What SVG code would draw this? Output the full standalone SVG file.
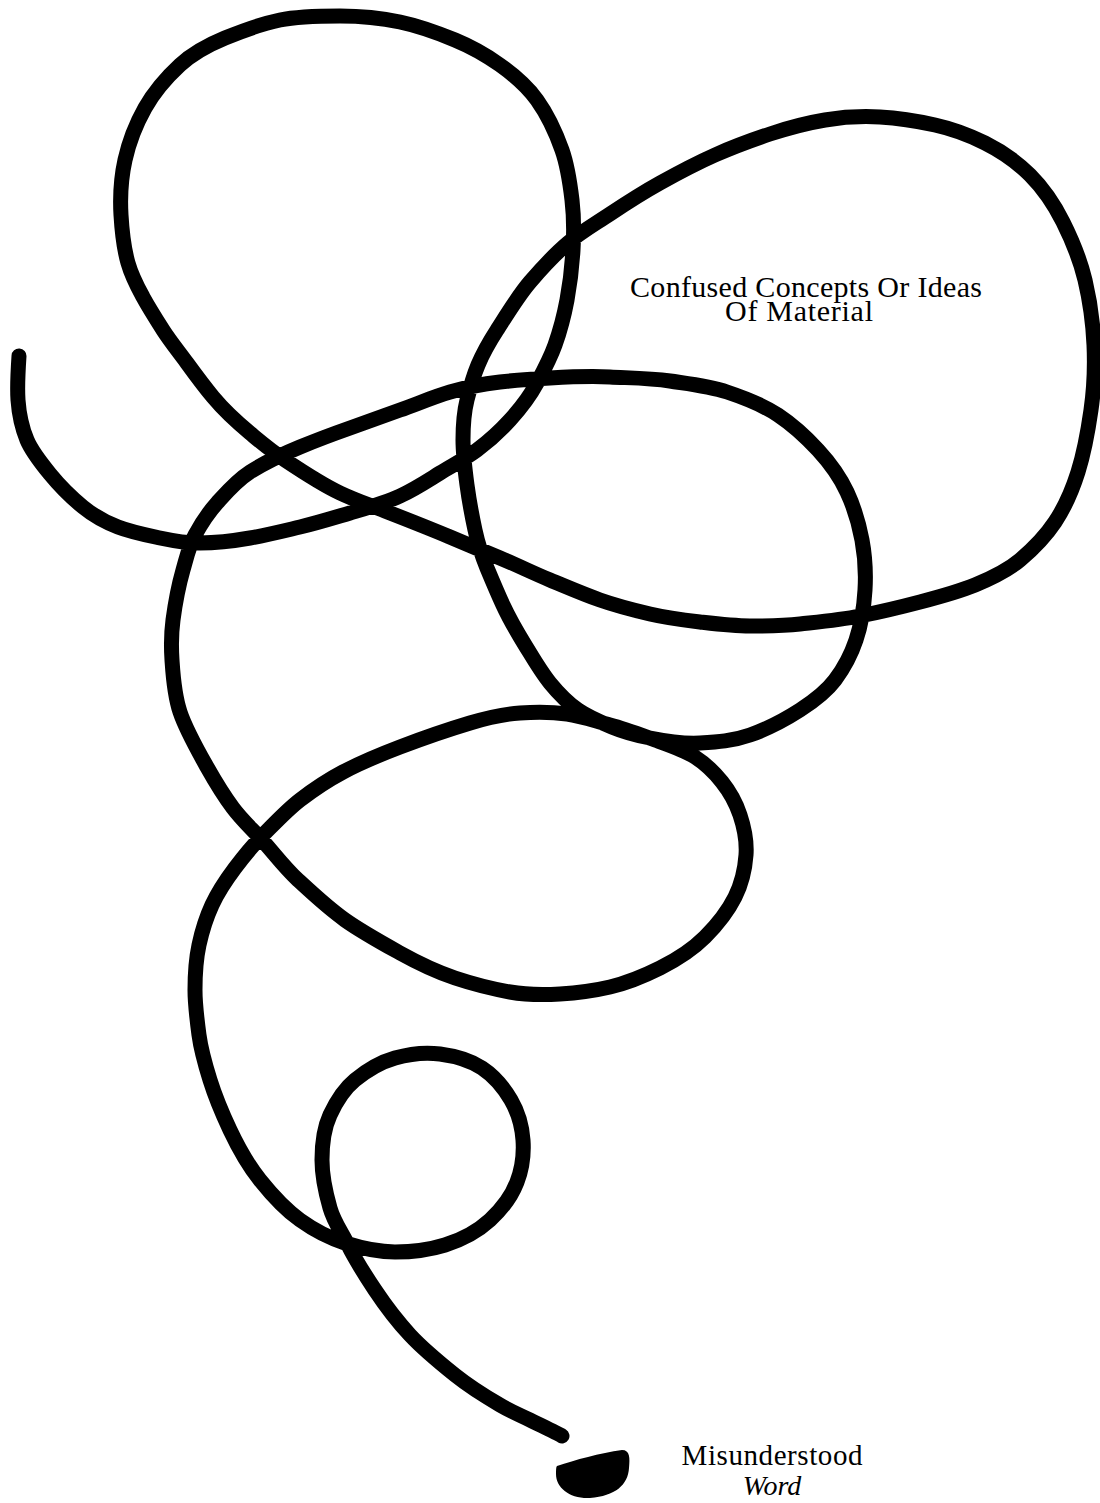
<svg xmlns="http://www.w3.org/2000/svg" width="1100" height="1503" viewBox="0 0 1100 1503">
<style>
.stroke{fill:none;stroke:#000;stroke-width:15;stroke-linecap:round;stroke-linejoin:round}
.lbl{font-family:"Liberation Serif","Times New Roman",serif;font-size:30px;fill:#000;text-anchor:middle}
</style>
<rect width="1100" height="1503" fill="#fff"/>
<g id="connectors">
<path class="stroke" d="M19,356 S17,386 18,400 S22,428 27,440 S41,463 50,474 S72,498 83,507 S105,522 118,527 S146,535 160,538 S185,543 200,543 S233,541 250,538 S283,531 300,527 S333,518 350,513 S385,503 400,496 S427,481 440,473 S465,459 477,450 S500,431 510,420 S530,396 537,383 S550,359 555,345 S564,316 567,300 S572,267 573,250 S574,217 572,200 S568,167 562,150 S547,114 537,100 S514,75 500,65 S472,47 455,40 S419,26 400,22 S360,16 340,16 S299,16 280,20 S242,31 225,38 S193,53 180,65 S154,92 145,108 S129,142 125,160 S120,198 121,215 S124,249 128,263 S137,286 143,297 S156,319 163,330 S179,352 187,363 S203,385 213,397 S238,423 250,433 S270,450 285,460 S323,485 340,493 S367,504 385,511 S431,529 450,537 S483,551 500,558 S533,573 550,580 S583,594 600,600 S633,610 650,614 S683,620 700,622 S733,626 750,626 S782,626 800,624 S840,620 860,616 S901,607 920,602 S958,592 975,585 S1007,571 1020,560 S1045,537 1055,522 S1072,491 1078,472 S1088,431 1091,410 S1095,367 1094,345 S1090,301 1085,280 S1072,240 1063,222 S1043,188 1030,175 S1001,151 985,143 S953,129 935,125 S898,118 880,117 S843,117 825,120 S788,128 770,134 S733,147 715,155 S678,173 660,183 S625,204 610,214 S581,232 568,243 S542,268 530,282 S506,316 497,330 S483,353 478,365 S470,388 467,400 S463,426 463,440 S465,470 467,485 S472,516 475,530 S482,556 487,568 S497,592 503,605 S517,632 525,645 S541,672 550,683 S568,703 578,710 S600,722 612,727 S635,735 650,738 S683,744 700,743 S733,741 750,735 S786,719 800,710 S826,692 835,680 S851,655 856,640 S864,607 865,590 S865,556 862,540 S854,507 847,492 S830,463 818,450 S793,425 778,415 S745,398 727,392 S690,384 670,381 S630,378 610,377 S568,377 550,378 S517,380 500,382 S467,387 450,392 S417,404 400,410 S367,422 350,428 S317,440 300,447 S264,463 250,472 S226,493 217,503 S201,524 195,535 S187,556 183,570 S175,605 173,620 S171,645 172,660 S174,694 180,712 S198,751 207,767 S224,796 233,808 S251,828 262,840 S284,867 298,880 S328,908 345,920 S382,943 400,953 S437,972 455,978 S493,989 510,992 S543,995 560,994 S593,991 610,987 S644,976 660,968 S693,949 705,937 S728,911 735,897 S745,869 746,855 S744,827 740,815 S730,792 722,782 S706,764 695,757 S669,745 655,740 S625,729 610,725 S582,716 567,714 S536,712 520,713 S490,717 470,723 S421,739 400,747 S360,763 343,772 S313,790 300,800 S274,824 263,835 S244,856 235,868 S218,892 212,905 S202,931 199,945 S195,975 195,990 S197,1020 199,1035 S205,1064 210,1080 S222,1113 230,1130 S248,1165 260,1180 S286,1210 300,1220 S329,1238 345,1243 S378,1252 395,1252 S429,1250 445,1245 S478,1231 490,1220 S512,1195 517,1182 S524,1154 523,1140 S518,1112 511,1100 S494,1076 482,1068 S455,1056 440,1054 S409,1054 395,1058 S366,1071 355,1080 S336,1102 330,1115 S322,1145 322,1160 S326,1194 330,1208 S341,1231 348,1245 S365,1275 375,1290 S397,1321 410,1335 S440,1363 455,1375 S488,1398 500,1405 S520,1415 530,1420 S557,1433 562,1436"/>
</g>
<g id="misunderstood-word-mark">
<path fill="#000" d="M557,1466 C575,1460 600,1453 622,1450 C630,1450 630,1458 629,1468 C628,1485 615,1496 590,1498 C570,1499 556,1488 556,1474 C556,1470 556,1467 557,1466 Z"/>
</g>
<g id="label-confused">
<text class="lbl"><tspan x="806" y="297" textLength="352" lengthAdjust="spacing">Confused Concepts Or Ideas</tspan><tspan x="799" y="321" textLength="148" lengthAdjust="spacing">Of Material</tspan></text>
</g>
<g id="label-misunderstood">
<text class="lbl" style="font-size:29px"><tspan x="772" y="1465" textLength="181" lengthAdjust="spacing">Misunderstood</tspan><tspan x="772" y="1495" style="font-style:italic;font-size:28px">Word</tspan></text>
</g>
</svg>
